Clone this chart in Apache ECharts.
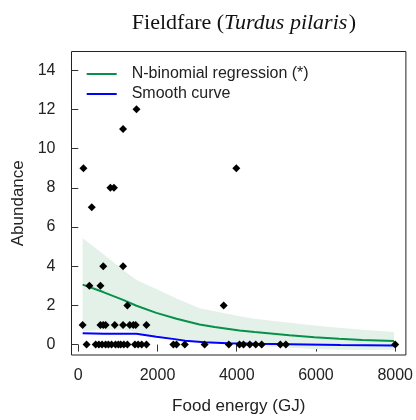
<!DOCTYPE html>
<html>
<head>
<meta charset="utf-8">
<script src="https://cdn.jsdelivr.net/npm/echarts@6/dist/echarts.min.js"></script>
<style>html,body{margin:0;padding:0;background:#fff}#c{width:416px;height:420px}</style>
</head>
<body>
<div id="c"></div>
<script>
// Observations (food energy GJ, abundance)
var obsX = [210,440,520,600,690,760,840,940,1010,1070,1150,1240,1430,1510,1600,1720,2400,2480,2690,3190,3800,4070,4170,4330,4480,4630,5100,5240,8000,
            110,560,630,690,920,1130,1300,1390,1450,1720,
            1240,3670,
            280,560,
            630,1130,
            340,
            810,900,
            130,3990,
            1130,
            1470];
var obsY = [0,0,0,0,0,0,0,0,0,0,0,0,0,0,0,0,0,0,0,0,0,0,0,0,0,0,0,0,0,
            1,1,1,1,1,1,1,1,1,1,
            2,2,
            3,3,
            4,4,
            7,
            8,8,
            9,9,
            11,
            12];
// Negative binomial regression fit and confidence band
var fitX   = [110,630,1130,1470,1970,2480,3060,3440,4070,4450,5330,5960,6580,7170,7970];
var fitY   = [3.06,2.68,2.28,1.98,1.62,1.32,1.03,0.90,0.72,0.64,0.48,0.37,0.30,0.24,0.19];
var upperY = [5.42,4.62,3.80,3.30,2.84,2.35,1.86,1.70,1.45,1.32,1.12,0.98,0.86,0.76,0.64];
var lowerY = [0.70,0.74,0.76,0.66,0.40,0.29,0.20,0.10,-0.01,-0.04,-0.16,-0.22,-0.26,-0.28,-0.26];
// Smooth curve
var smX = [110,650,1470,1500,1970,2430,2700,3190,3770,4500,5330,6620,7970];
var smY = [0.58,0.56,0.55,0.46,0.40,0.28,0.20,0.12,0.07,0.04,0.02,-0.02,-0.05];
// Ticks
var xTicks = [0,2000,4000,6000,8000];
var yTicks = [0,2,4,6,8,10,12,14];

function pairs(xs, ys){ return xs.map(function(x,i){return [x, ys[i]];}); }

var chart = echarts.init(document.getElementById('c'), null, {renderer:'canvas'});
var sans = 'Liberation Sans, Arial, sans-serif';
var serif = 'Liberation Serif, Times New Roman, serif';
chart.setOption({
  animation:false,
  title:{
    text:'{n|Fieldfare (}{i|Turdus pilaris}{g| }{n|)}',
    left:239, top:7, textAlign:'center',
    textStyle:{ rich:{
      n:{fontFamily:serif, fontSize:22, fontWeight:'normal', color:'#111'},
      i:{fontFamily:serif, fontSize:22, fontWeight:'normal', fontStyle:'italic', color:'#111'},
      g:{fontFamily:serif, fontSize:6, color:'#111'}
    }}
  },
  legend:{
    left:81.7, top:61, orient:'vertical', itemGap:4, itemWidth:30, itemHeight:14,
    data:[{name:'N-binomial regression (*)', icon:'path://M0,6L30,6L30,8L0,8Z'},
          {name:'Smooth curve', icon:'path://M0,6L30,6L30,8L0,8Z'}],
    textStyle:{fontFamily:sans, fontSize:16, lineHeight:14, color:'#222', padding:[0,0,0,10]}
  },
  grid:{left:71.5, right:9, top:51.5, bottom:63.5, show:true, borderColor:'#222', borderWidth:1, backgroundColor:'transparent'},
  xAxis:{
    type:'value', min:-171, max:8270,
    name:'Food energy (GJ)', nameLocation:'middle', nameGap:43,
    nameTextStyle:{fontFamily:sans, fontSize:17, color:'#222'},
    axisLine:{show:false}, splitLine:{show:false},
    axisTick:{show:true, length:7, lineStyle:{color:'#333'}, customValues:xTicks},
    axisLabel:{fontFamily:sans, fontSize:16, color:'#222', margin:13, customValues:xTicks,
               formatter:function(v){return String(v);}}
  },
  yAxis:{
    type:'value', min:-0.53, max:14.95,
    name:'Abundance', nameLocation:'middle', nameGap:43,
    nameTextStyle:{fontFamily:sans, fontSize:17, color:'#222'},
    axisLine:{show:false}, splitLine:{show:false},
    axisTick:{show:true, length:7, lineStyle:{color:'#333'}, customValues:yTicks},
    axisLabel:{fontFamily:sans, fontSize:16, color:'#222', margin:16, customValues:yTicks,
               formatter:function(v){return String(v);}}
  },
  series:[
    {type:'custom', name:'band', silent:true, z:1,
     data:[0],
     renderItem:function(params, api){
       var pts = [];
       for (var i=0;i<fitX.length;i++) pts.push(api.coord([fitX[i], upperY[i]]));
       for (var j=fitX.length-1;j>=0;j--) pts.push(api.coord([fitX[j], lowerY[j]]));
       return {type:'polygon', shape:{points:pts}, style:{fill:'#e3f1e9', stroke:null}};
     }},
    {type:'line', name:'N-binomial regression (*)', data:pairs(fitX, fitY), showSymbol:false,
     lineStyle:{color:'#06904a', width:2}, itemStyle:{color:'#06904a'}, z:3},
    {type:'line', name:'Smooth curve', data:pairs(smX, smY), showSymbol:false,
     lineStyle:{color:'#0000ff', width:2}, itemStyle:{color:'#0000ff'}, z:3},
    {type:'scatter', name:'obs', data:pairs(obsX, obsY), symbol:'diamond', symbolSize:[8,8],
     itemStyle:{color:'#000', opacity:1}, z:5}
  ]
});
</script>
</body>
</html>
